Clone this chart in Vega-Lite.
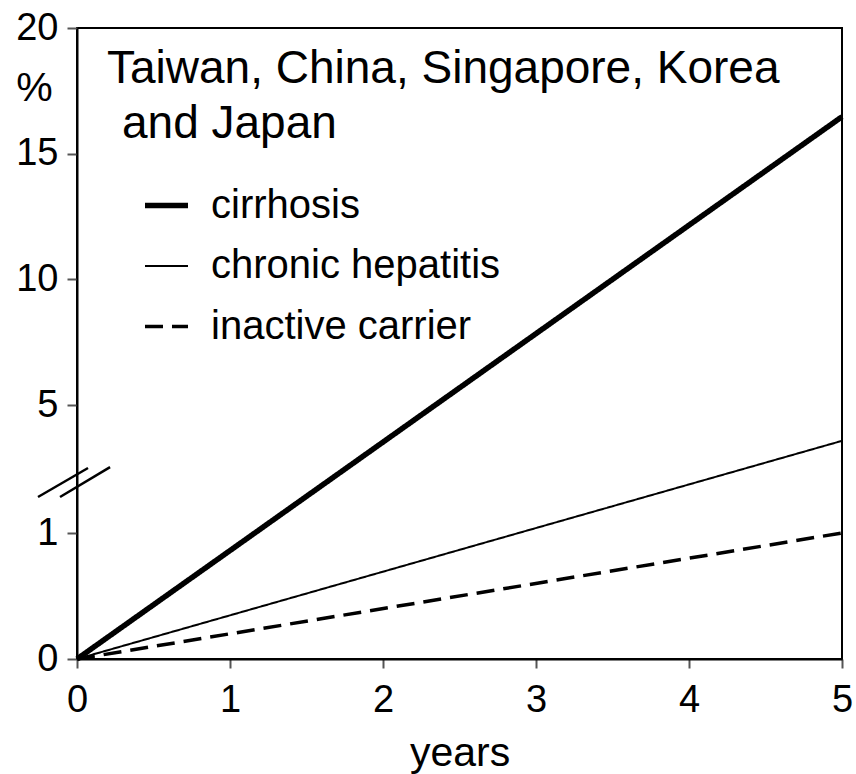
{
  "$schema": "https://vega.github.io/schema/vega-lite/v6.json",
  "width": 765,
  "height": 631,
  "autosize": "none",
  "padding": {"left": 77, "top": 28, "right": 14, "bottom": 115},
  "background": "white",
  "config": {
    "font": "Liberation Sans",
    "view": {"stroke": "black", "strokeWidth": 2},
    "axis": {
      "grid": false,
      "domainColor": "black",
      "domainWidth": 2,
      "tickColor": "#555555",
      "tickWidth": 2,
      "labelFont": "Liberation Sans",
      "labelColor": "black",
      "labelFontSize": 38,
      "labelFlush": false,
      "labelOverlap": false,
      "labelBound": false,
      "titleFont": "Liberation Sans",
      "titleFontSize": 41,
      "titleFontWeight": "normal",
      "titleColor": "black"
    }
  },
  "datasets": {
    "lines": [
      {"status": "cirrhosis", "years": 0, "percent": 0},
      {"status": "cirrhosis", "years": 1.162, "percent": 1},
      {"status": "cirrhosis", "years": 2.342, "percent": 5},
      {"status": "cirrhosis", "years": 5, "percent": 16.47},
      {"status": "chronic hepatitis", "years": 0, "percent": 0},
      {"status": "chronic hepatitis", "years": 2.886, "percent": 1},
      {"status": "chronic hepatitis", "years": 5, "percent": 3.88},
      {"status": "inactive carrier", "years": 0, "percent": 0},
      {"status": "inactive carrier", "years": 5, "percent": 1.0}
    ]
  },
  "layer": [
    {
      "data": {"name": "lines"},
      "mark": {"type": "line", "color": "black", "clip": false},
      "encoding": {
        "x": {
          "field": "years",
          "type": "quantitative",
          "scale": {"domain": [0, 5], "nice": false, "zero": false},
          "axis": {
            "values": [0, 1, 2, 3, 4, 5],
            "format": "d",
            "tickSize": 9,
            "labelPadding": 13,
            "title": "years",
            "titleBaseline": "alphabetic",
            "titleY": 106
          }
        },
        "y": {
          "field": "percent",
          "type": "quantitative",
          "scale": {"domain": [0, 1, 5, 20], "range": [631, 505, 377, 0], "nice": false, "zero": false},
          "axis": {
            "values": [0, 1, 5, 10, 15, 20],
            "format": "d",
            "tickSize": 10,
            "labelPadding": 9,
            "title": "%",
            "titleAngle": 0,
            "titleAlign": "center",
            "titleBaseline": "alphabetic",
            "titleX": -43,
            "titleY": 72
          }
        },
        "strokeWidth": {
          "field": "status",
          "type": "nominal",
          "scale": {"type": "ordinal", "domain": ["cirrhosis", "chronic hepatitis", "inactive carrier"], "range": [5.5, 2, 3.5]},
          "legend": {
            "title": null, "orient": "none", "legendX": 65, "legendY": 153,
            "symbolSize": 1850, "symbolType": "stroke", "symbolStrokeColor": "black",
            "labelFontSize": 40, "labelFont": "Liberation Sans", "labelColor": "black", "labelLimit": 0,
            "labelOffset": 20, "rowPadding": 17, "padding": 0
          }
        },
        "strokeDash": {
          "field": "status",
          "type": "nominal",
          "scale": {"type": "ordinal", "domain": ["cirrhosis", "chronic hepatitis", "inactive carrier"], "range": [[1, 0], [1, 0], [18, 9]]},
          "legend": {
            "title": null, "orient": "none", "legendX": 65, "legendY": 153,
            "symbolSize": 1850, "symbolType": "stroke", "symbolStrokeColor": "black",
            "labelFontSize": 40, "labelFont": "Liberation Sans", "labelColor": "black", "labelLimit": 0,
            "labelOffset": 20, "rowPadding": 17, "padding": 0
          }
        }
      }
    },
    {
      "data": {"values": [{}]},
      "mark": {"type": "rule", "color": "black", "strokeWidth": 2.5, "clip": false},
      "encoding": {
        "x": {"datum": -0.255}, "x2": {"datum": 0.072},
        "y": {"datum": 2.125}, "y2": {"datum": 3.03}
      }
    },
    {
      "data": {"values": [{}]},
      "mark": {"type": "rule", "color": "black", "strokeWidth": 2.5, "clip": false},
      "encoding": {
        "x": {"datum": -0.111}, "x2": {"datum": 0.216},
        "y": {"datum": 2.125}, "y2": {"datum": 3.06}
      }
    },
    {
      "data": {"values": [{}]},
      "mark": {"type": "text", "align": "left", "baseline": "alphabetic", "fontSize": 46, "font": "Liberation Sans", "color": "black"},
      "encoding": {
        "x": {"datum": 0.196},
        "y": {"datum": 17.81},
        "text": {"value": "Taiwan, China, Singapore, Korea"}
      }
    },
    {
      "data": {"values": [{}]},
      "mark": {"type": "text", "align": "left", "baseline": "alphabetic", "fontSize": 46, "font": "Liberation Sans", "color": "black"},
      "encoding": {
        "x": {"datum": 0.294},
        "y": {"datum": 15.62},
        "text": {"value": "and Japan"}
      }
    }
  ]
}
